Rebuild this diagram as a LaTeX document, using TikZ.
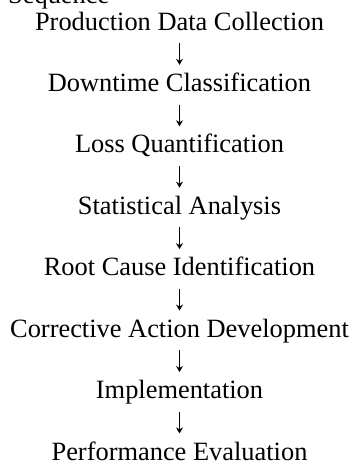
\documentclass[tikz,border=0pt]{standalone}
\usepackage{fontspec}
\setmainfont{Liberation Serif}
\usetikzlibrary{arrows.meta}
\begin{document}
\begin{tikzpicture}[x=1pt,y=1pt,
  every node/.style={inner sep=0pt, font=\fontsize{26.4pt}{30.7pt}\selectfont},
  stage/.style={anchor=base, text height=18pt, text depth=6pt},
  flow/.style={line width=0.8pt, shorten <=7pt, shorten >=8.4pt,
    -{Stealth[length=6pt,width=7pt,inset=2pt]}}]
  \useasboundingbox (0,0) rectangle (353,-463);
  \clip (0,0) rectangle (353,-463);
  \node[anchor=base west] (title) at (8,-3) {Sequence};
  \foreach \name/\txt [count=\i from 0] in {
      s0/Production Data Collection,
      s1/Downtime Classification,
      s2/Loss Quantification,
      s3/Statistical Analysis,
      s4/Root Cause Identification,
      s5/Corrective Action Development,
      s6/Implementation,
      s7/Performance Evaluation}
    \node[stage] (\name) at (179.5,{-30-61.43*\i}) {\txt};
  \foreach \a/\b in {s0/s1,s1/s2,s2/s3,s3/s4,s4/s5,s5/s6,s6/s7}
    \draw[flow] (\a.south) -- (\b.north);
\end{tikzpicture}
\end{document}
